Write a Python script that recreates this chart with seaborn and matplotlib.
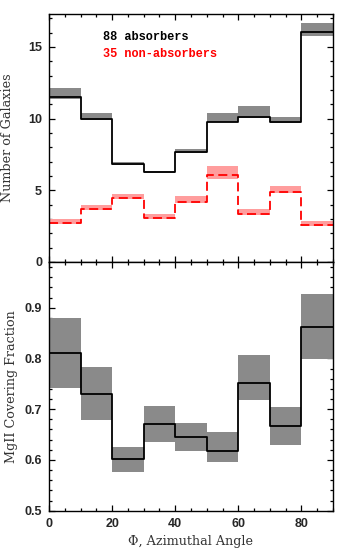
import numpy as np
import pandas as pd
import matplotlib
matplotlib.use("Agg")
import matplotlib.pyplot as plt
import seaborn as sns
from matplotlib.ticker import MultipleLocator

# ---- data ----
edges = [0, 10, 20, 30, 40, 50, 60, 70, 80, 90]

absorbers = [11.52, 9.98, 6.85, 6.27, 7.66, 9.77, 10.15, 9.75, 16.07]
abs_hi = [12.12, 10.42, 6.95, 6.38, 7.87, 10.42, 10.91, 10.10, 16.69]
abs_lo = [11.40, 9.90, 6.78, 6.20, 7.60, 9.77, 10.08, 9.70, 15.80]

nonabs = [2.69, 3.67, 4.48, 3.06, 4.18, 6.08, 3.34, 4.88, 2.55]
non_hi = [2.97, 3.99, 4.76, 3.34, 4.57, 6.73, 3.67, 5.32, 2.88]
non_lo = [2.62, 3.62, 4.42, 3.00, 4.12, 5.80, 3.28, 4.82, 2.50]

cf = [0.810, 0.730, 0.601, 0.671, 0.646, 0.617, 0.751, 0.667, 0.861]
cf_hi = [0.880, 0.783, 0.625, 0.706, 0.673, 0.656, 0.807, 0.704, 0.926]
cf_lo = [0.742, 0.678, 0.576, 0.636, 0.617, 0.595, 0.718, 0.630, 0.799]

label_abs = "88 absorbers"
label_non = "35 non-absorbers"

sns.set_style("ticks")
plt.rcParams["font.family"] = ["Liberation Sans", "DejaVu Sans"]


def ext(v):
    return list(v) + [v[-1]]


fig = plt.figure(figsize=(3.37, 5.52), dpi=100)
ax1 = fig.add_axes([0.1454, 0.5254, 0.8426, 0.4492])
ax2 = fig.add_axes([0.1454, 0.0748, 0.8426, 0.4506])

gray = "#8a8a8a"
pink = "#ff9d9d"
label_font = ["DejaVu Serif"]

# top panel
ax1.fill_between(edges, ext(abs_lo), ext(abs_hi), step="post", color=gray, lw=0, zorder=1)
ax1.fill_between(edges, ext(non_lo), ext(non_hi), step="post", color=pink, lw=0, zorder=1)
df_a = pd.DataFrame({"x": edges, "y": ext(absorbers)})
df_n = pd.DataFrame({"x": edges, "y": ext(nonabs)})
sns.lineplot(data=df_a, x="x", y="y", ax=ax1, drawstyle="steps-post", color="black", lw=1.3, zorder=3)
sns.lineplot(data=df_n, x="x", y="y", ax=ax1, drawstyle="steps-post", color="#ff0000",
             lw=1.3, linestyle=(0, (5, 2.5)), zorder=3)

ax1.text(17.1, 15.7, label_abs, color="black", fontsize=8.6, fontweight="bold",
         family=["Liberation Mono", "DejaVu Sans Mono"], va="center", ha="left")
ax1.text(17.1, 14.5, label_non, color="#ff0000", fontsize=8.6, fontweight="bold",
         family=["Liberation Mono", "DejaVu Sans Mono"], va="center", ha="left")

ax1.set_xlim(0, 90)
ax1.set_ylim(0, 17.3)
ax1.set_xlabel("")
ax1.set_ylabel("Number of Galaxies", family=label_font, fontsize=9.2, color="#333333", labelpad=10)
ax1.xaxis.set_major_locator(MultipleLocator(20))
ax1.xaxis.set_minor_locator(MultipleLocator(5))
ax1.yaxis.set_major_locator(MultipleLocator(5))
ax1.yaxis.set_minor_locator(MultipleLocator(1))
ax1.tick_params(labelbottom=False)

# bottom panel
ax2.fill_between(edges, ext(cf_lo), ext(cf_hi), step="post", color=gray, lw=0, zorder=1)
df_c = pd.DataFrame({"x": edges, "y": ext(cf)})
sns.lineplot(data=df_c, x="x", y="y", ax=ax2, drawstyle="steps-post", color="black", lw=1.3, zorder=3)
ax2.set_xlim(0, 90)
ax2.set_ylim(0.5, 0.99)
ax2.set_xlabel("Φ, Azimuthal Angle", family=label_font, fontsize=9.2, color="#333333", labelpad=4)
ax2.set_ylabel("MgII Covering Fraction", family=label_font, fontsize=9.2, color="#333333", labelpad=5)
ax2.xaxis.set_major_locator(MultipleLocator(20))
ax2.xaxis.set_minor_locator(MultipleLocator(5))
ax2.yaxis.set_major_locator(MultipleLocator(0.1))
ax2.yaxis.set_minor_locator(MultipleLocator(0.02))
ax2.yaxis.set_major_formatter(matplotlib.ticker.FormatStrFormatter("%.1f"))

for ax in (ax1, ax2):
    for s in ax.spines.values():
        s.set_linewidth(1.0)
        s.set_color("black")
        s.set_zorder(5)
    ax.tick_params(which="both", direction="in", top=True, right=True, width=0.9, color="black")
    ax.tick_params(which="major", length=4.5, labelsize=9, pad=5)
    ax.tick_params(which="minor", length=2.2)
    for lab in ax.get_xticklabels() + ax.get_yticklabels():
        lab.set_fontweight("bold")

fig.savefig("out.png", dpi=100)
